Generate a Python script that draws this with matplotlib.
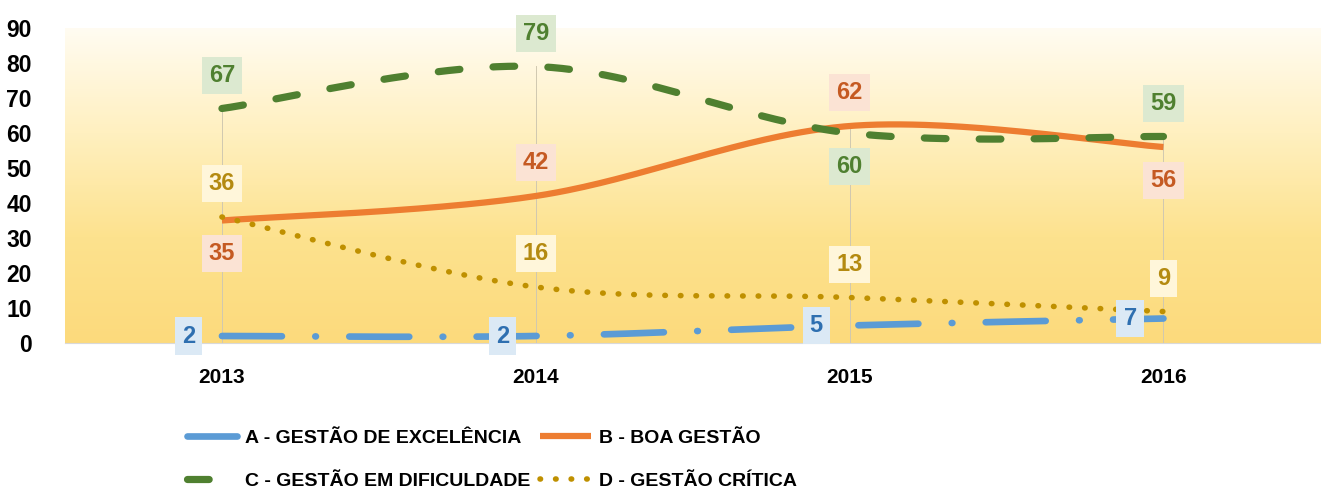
import numpy as np
import matplotlib.pyplot as plt
from matplotlib.colors import LinearSegmentedColormap

# data
years = ['2013', '2014', '2015', '2016']
serie_a = [2, 2, 5, 7]
serie_b = [35, 42, 62, 56]
serie_c = [67, 79, 60, 59]
serie_d = [36, 16, 13, 9]
nomes = ['A - GESTÃO DE EXCELÊNCIA', 'B - BOA GESTÃO',
         'C - GESTÃO EM DIFICULDADE', 'D - GESTÃO CRÍTICA']

plt.rcParams['font.family'] = ['Liberation Sans', 'DejaVu Sans']


# smooth curve like excel (bezier through the points)
def smooth(x, y, n=60):
    x = np.asarray(x, float)
    y = np.asarray(y, float)
    px = np.concatenate([[x[0]], x, [x[-1]]])
    py = np.concatenate([[y[0]], y, [y[-1]]])
    xs, ys = [], []
    t = np.linspace(0, 1, n)
    for i in range(1, len(x)):
        p0 = np.array([px[i], py[i]])
        p3 = np.array([px[i + 1], py[i + 1]])
        p1 = p0 + (np.array([px[i + 1], py[i + 1]]) - np.array([px[i - 1], py[i - 1]])) / 6
        p2 = p3 - (np.array([px[i + 2], py[i + 2]]) - np.array([px[i], py[i]])) / 6
        b = ((1 - t) ** 3)[:, None] * p0 + (3 * (1 - t) ** 2 * t)[:, None] * p1 \
            + (3 * (1 - t) * t ** 2)[:, None] * p2 + (t ** 3)[:, None] * p3
        xs.append(b[:, 0])
        ys.append(b[:, 1])
    return np.concatenate(xs), np.concatenate(ys)


fig = plt.figure(figsize=(13.27, 4.91), dpi=100)
ax = fig.add_axes([0.049, 0.3014, 0.946, 0.6416])

x = np.arange(len(years))

# gradient background
cmap = LinearSegmentedColormap.from_list('bg', ['#fffcf2', '#fff0c0', '#fde28e', '#fcda7c'])
grad = np.linspace(0, 1, 256)[:, None]
ax.imshow(grad, extent=[-0.5, 3.5, 0, 90], aspect='auto', cmap=cmap, origin='upper', zorder=0)

# drop lines
for i in x:
    top = max(serie_a[i], serie_b[i], serie_c[i], serie_d[i])
    ax.plot([i, i], [0, top], color='#d0c8b0', lw=0.7, zorder=1)

cor_a = '#5b9bd5'
cor_b = '#ed7d31'
cor_c = '#4f8030'
cor_d = '#bf9000'

sx, sy = smooth(x, serie_a)
la, = ax.plot(sx, sy, color=cor_a, lw=4.8, dashes=(9, 5, 0.1, 5), dash_capstyle='round', zorder=3)
sx, sy = smooth(x, serie_b)
lb, = ax.plot(sx, sy, color=cor_b, lw=4.5, solid_capstyle='butt', zorder=3)
sx, sy = smooth(x, serie_c)
lc, = ax.plot(sx, sy, color=cor_c, lw=5.2, dashes=(3.0, 4.6), dash_capstyle='round', zorder=3)
sx, sy = smooth(x, serie_d)
ld, = ax.plot(sx, sy, color=cor_d, lw=4.0, dashes=(0.1, 2.7), dash_capstyle='round', zorder=3)

# data labels
def rotulo(i, v, dx, dy, tc, fc):
    ax.annotate(str(v), (i, v), xytext=(dx, dy), textcoords='offset points',
                ha='center', va='center', fontsize=17, fontweight='bold', color=tc,
                bbox=dict(boxstyle='square,pad=0.3', fc=fc, ec='none'), zorder=5)

off = 24
pos_a = [(-off, 0)] * 4
pos_b = [(0, -off), (0, off), (0, off), (0, -off)]
pos_c = [(0, off), (0, off), (0, -off), (0, off)]
pos_d = [(0, off), (0, off), (0, off), (0, off)]
for i in x:
    rotulo(i, serie_a[i], *pos_a[i], '#2e6fb0', '#dbe9f5')
    rotulo(i, serie_b[i], *pos_b[i], '#c55a22', '#fbe3d4')
    rotulo(i, serie_c[i], *pos_c[i], '#4f8030', '#dce9d0')
    rotulo(i, serie_d[i], *pos_d[i], '#b48a10', '#fff6da')

ax.set_xlim(-0.5, 3.5)
ax.set_ylim(0, 90)
ax.set_yticks(range(0, 91, 10))
ax.set_xticks(x)
ax.set_xticklabels(years)
for s in ['top', 'right', 'left']:
    ax.spines[s].set_visible(False)
ax.spines['bottom'].set_color('#d9d9d9')
ax.tick_params(axis='y', length=0, pad=24, labelsize=16.5)
ax.tick_params(axis='x', length=0, pad=18, labelsize=15)
for lab in ax.get_xticklabels() + ax.get_yticklabels():
    lab.set_fontweight('bold')

# legend filled by rows: A B / C D
fig.legend([la, lc, lb, ld], [nomes[0], nomes[2], nomes[1], nomes[3]], loc='upper left',
           bbox_to_anchor=(0.135, 0.142), ncol=2, frameon=False, handlelength=2.6,
           columnspacing=0.5, handletextpad=0.4, labelspacing=1.3, borderaxespad=0,
           prop={'weight': 'bold', 'size': 14})

fig.savefig('out.png', dpi=100)
